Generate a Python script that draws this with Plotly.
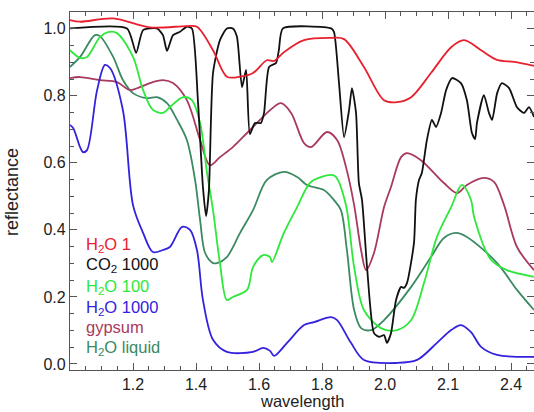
import plotly.graph_objects as go

# ---- data ----
h2o1_x = [1.0, 1.032, 1.137, 1.254, 1.371, 1.403, 1.454, 1.498, 1.540, 1.581, 1.625, 1.648, 1.679, 1.743, 1.829, 1.870, 1.933, 1.997, 2.038, 2.083, 2.146, 2.210, 2.251, 2.305, 2.356, 2.410, 2.473]
h2o1_y = [1.026, 1.021, 1.031, 1.004, 1.008, 1.006, 0.936, 0.857, 0.857, 0.868, 0.906, 0.904, 0.930, 0.966, 0.973, 0.969, 0.886, 0.787, 0.781, 0.796, 0.868, 0.945, 0.966, 0.936, 0.907, 0.901, 0.889]

co2_x = [1.0, 1.181, 1.210, 1.232, 1.276, 1.295, 1.308, 1.327, 1.349, 1.371, 1.387, 1.406, 1.422, 1.432, 1.441, 1.454, 1.476, 1.498, 1.517, 1.530, 1.546, 1.559, 1.571, 1.587, 1.606, 1.616, 1.632, 1.654, 1.663, 1.676, 1.829, 1.838, 1.854, 1.870, 1.886, 1.895, 1.908, 1.917, 1.927, 1.943, 1.965, 1.981, 1.997, 2.006, 2.019, 2.035, 2.051, 2.060, 2.070, 2.092, 2.098, 2.108, 2.117, 2.133, 2.149, 2.162, 2.178, 2.194, 2.213, 2.241, 2.260, 2.276, 2.286, 2.292, 2.314, 2.330, 2.340, 2.356, 2.371, 2.394, 2.419, 2.441, 2.457, 2.473]
co2_y = [1.001, 1.001, 0.928, 0.996, 1.001, 0.981, 0.934, 0.981, 0.991, 1.006, 1.001, 0.787, 0.528, 0.441, 0.519, 0.868, 0.966, 1.001, 1.001, 0.976, 0.826, 0.877, 0.686, 0.719, 0.719, 0.749, 0.886, 0.898, 0.936, 1.001, 1.001, 0.991, 0.838, 0.677, 0.758, 0.823, 0.749, 0.540, 0.489, 0.289, 0.092, 0.081, 0.086, 0.063, 0.092, 0.191, 0.230, 0.227, 0.242, 0.361, 0.489, 0.549, 0.570, 0.668, 0.728, 0.707, 0.749, 0.817, 0.853, 0.838, 0.787, 0.689, 0.671, 0.719, 0.802, 0.749, 0.728, 0.808, 0.838, 0.823, 0.766, 0.749, 0.766, 0.737]

h2o100_x = [1.0, 1.032, 1.054, 1.095, 1.121, 1.149, 1.200, 1.232, 1.263, 1.295, 1.317, 1.359, 1.387, 1.413, 1.435, 1.454, 1.476, 1.498, 1.517, 1.562, 1.581, 1.613, 1.635, 1.641, 1.679, 1.721, 1.765, 1.829, 1.844, 1.876, 1.902, 1.933, 1.987, 2.038, 2.083, 2.124, 2.165, 2.210, 2.244, 2.273, 2.283, 2.337, 2.387, 2.473]
h2o100_y = [0.936, 0.913, 0.916, 0.975, 0.990, 0.987, 0.916, 0.817, 0.758, 0.749, 0.766, 0.796, 0.787, 0.719, 0.570, 0.459, 0.301, 0.191, 0.200, 0.221, 0.289, 0.325, 0.319, 0.304, 0.391, 0.468, 0.543, 0.564, 0.558, 0.474, 0.289, 0.161, 0.107, 0.101, 0.131, 0.242, 0.379, 0.468, 0.534, 0.489, 0.438, 0.310, 0.280, 0.260]

h2o1000_x = [1.0, 1.010, 1.032, 1.041, 1.054, 1.086, 1.111, 1.127, 1.168, 1.200, 1.232, 1.263, 1.295, 1.317, 1.356, 1.381, 1.403, 1.422, 1.454, 1.498, 1.581, 1.613, 1.635, 1.648, 1.689, 1.743, 1.775, 1.829, 1.848, 1.892, 1.933, 2.038, 2.102, 2.165, 2.210, 2.241, 2.273, 2.305, 2.356, 2.473]
h2o1000_y = [0.713, 0.704, 0.647, 0.632, 0.638, 0.817, 0.892, 0.883, 0.757, 0.474, 0.391, 0.334, 0.340, 0.349, 0.409, 0.400, 0.340, 0.191, 0.072, 0.036, 0.036, 0.048, 0.039, 0.024, 0.063, 0.116, 0.125, 0.140, 0.131, 0.063, 0.012, 0.003, 0.012, 0.063, 0.101, 0.116, 0.095, 0.051, 0.027, 0.021]

gypsum_x = [1.0, 1.032, 1.095, 1.149, 1.190, 1.222, 1.263, 1.295, 1.327, 1.371, 1.413, 1.444, 1.476, 1.517, 1.562, 1.603, 1.635, 1.670, 1.702, 1.743, 1.765, 1.816, 1.848, 1.876, 1.902, 1.924, 1.940, 1.965, 1.997, 2.019, 2.051, 2.070, 2.114, 2.187, 2.229, 2.260, 2.314, 2.346, 2.378, 2.419, 2.473]
gypsum_y = [0.853, 0.856, 0.847, 0.841, 0.817, 0.826, 0.841, 0.847, 0.838, 0.787, 0.668, 0.593, 0.617, 0.647, 0.689, 0.728, 0.757, 0.778, 0.749, 0.659, 0.647, 0.692, 0.668, 0.588, 0.474, 0.340, 0.280, 0.331, 0.468, 0.528, 0.617, 0.629, 0.608, 0.540, 0.510, 0.534, 0.555, 0.543, 0.474, 0.349, 0.280]

liquid_x = [1.0, 1.032, 1.079, 1.095, 1.137, 1.168, 1.200, 1.244, 1.276, 1.308, 1.340, 1.371, 1.397, 1.413, 1.429, 1.454, 1.467, 1.498, 1.540, 1.581, 1.625, 1.679, 1.721, 1.752, 1.806, 1.838, 1.860, 1.879, 1.902, 1.924, 1.956, 1.997, 2.083, 2.146, 2.187, 2.225, 2.260, 2.356, 2.419, 2.473]
liquid_y = [0.886, 0.916, 0.981, 0.978, 0.916, 0.847, 0.808, 0.793, 0.796, 0.778, 0.728, 0.668, 0.549, 0.429, 0.331, 0.301, 0.301, 0.319, 0.391, 0.459, 0.549, 0.573, 0.558, 0.534, 0.519, 0.489, 0.459, 0.340, 0.161, 0.107, 0.101, 0.131, 0.230, 0.319, 0.376, 0.391, 0.379, 0.301, 0.221, 0.161]

series_names = ["H<sub>2</sub>O 1", "CO<sub>2</sub> 1000", "H<sub>2</sub>O 100", "H<sub>2</sub>O 1000", "gypsum", "H<sub>2</sub>O liquid"]
series_colors = ["#e8202e", "#111111", "#2ee83c", "#3322dd", "#a83a5c", "#3a8a62"]

x_tickvals = [1.2, 1.4, 1.6, 1.8, 2.0, 2.2, 2.4]
x_ticktext = ["1.2", "1.4", "1.6", "1.8", "2.0", "2.1", "2.4"]
y_tickvals = [0.0, 0.2, 0.4, 0.6, 0.8, 1.0]

FONT = "Liberation Sans, Arial, sans-serif"

fig = go.Figure()
data = [(h2o1_x, h2o1_y), (co2_x, co2_y), (h2o100_x, h2o100_y),
        (h2o1000_x, h2o1000_y), (gypsum_x, gypsum_y), (liquid_x, liquid_y)]
order = [5, 4, 3, 2, 1, 0]
for i in order:
    xs, ys = data[i]
    fig.add_trace(go.Scatter(
        x=xs, y=ys, mode="lines", name=series_names[i],
        line=dict(color=series_colors[i], width=1.8, shape="spline",
                  smoothing=0.6 if i == 1 else 0.9),
        showlegend=False, hoverinfo="skip"))

# legend as text labels
leg_y = [0.355, 0.295, 0.230, 0.167, 0.110, 0.048]
for i, name in enumerate(series_names):
    fig.add_annotation(x=1.046, y=leg_y[i], xref="x", yref="y", text=name,
                       showarrow=False, xanchor="left", yanchor="middle",
                       font=dict(color=series_colors[i], size=16.5, family=FONT))

pw = 534 - 70
ph = 412 - 12 - 42
# axis titles
fig.add_annotation(x=(302 - 70) / pw, y=(412 - 42 - 401) / ph, xref="paper", yref="paper",
                   text="wavelength", showarrow=False, xanchor="center", yanchor="middle",
                   borderpad=0, font=dict(size=16.5, color="#222222", family=FONT))
fig.add_annotation(text="reflectance", showarrow=False, textangle=-90,
                   xref="paper", yref="paper", x=(12 - 70) / pw, y=(412 - 42 - 192) / ph,
                   xanchor="center", yanchor="middle",
                   font=dict(size=18, color="#222222", family=FONT))

axis_common = dict(showline=True, linecolor="#555555", linewidth=1.2, mirror="ticks",
                   ticks="inside", ticklen=7, tickcolor="#555555", tickwidth=1,
                   showgrid=False, zeroline=False, automargin=False,
                   tickfont=dict(size=16, color="#222222", family=FONT))

fig.update_xaxes(range=[1.0, 2.473], tickvals=x_tickvals, ticktext=x_ticktext,
                 minor=dict(dtick=0.05, tick0=1.0, ticks="inside", ticklen=4, tickcolor="#555555"),
                 **axis_common)
fig.update_yaxes(range=[-0.018, 1.05], tickvals=y_tickvals, tickformat=".1f",
                 minor=dict(dtick=0.05, tick0=0.0, ticks="inside", ticklen=4, tickcolor="#555555"),
                 **axis_common)

fig.update_layout(width=534, height=412, margin=dict(l=70, r=0, t=12, b=42),
                  plot_bgcolor="white", paper_bgcolor="white")

fig.write_html("out.html", config={"displayModeBar": False},
               post_script="document.body.style.margin='0px';document.body.style.overflow='hidden';")
